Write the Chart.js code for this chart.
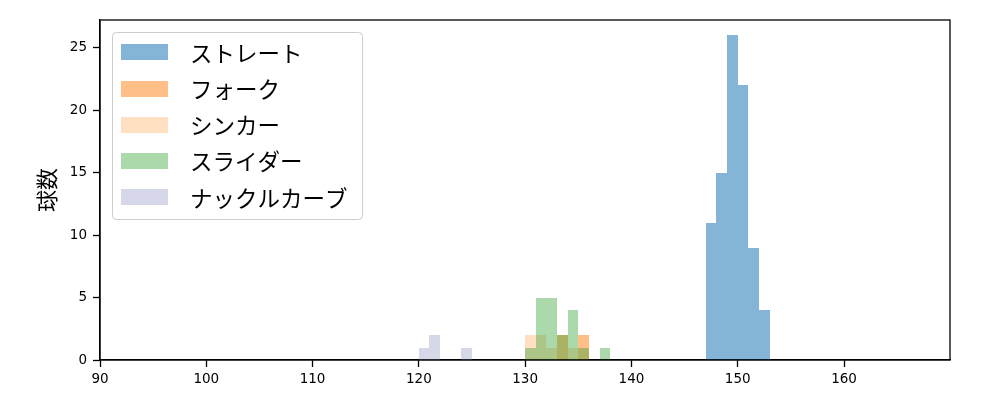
<!DOCTYPE html>
<html>
<head>
<meta charset="utf-8">
<script src="https://cdn.jsdelivr.net/npm/chart.js@4/dist/chart.umd.min.js"></script>
<style>
  html, body { margin: 0; padding: 0; background: #fff; }
  #wrap { width: 1000px; height: 400px; position: relative; }
</style>
</head>
<body>
<div id="wrap"><canvas id="c"></canvas></div>
<script>
// Bin left edges (km/h), each bin 1 km/h wide
const straightBins = [147, 148, 149, 150, 151, 152];
const straightCounts = [11, 15, 26, 22, 9, 4];

const forkBins = [133, 135];
const forkCounts = [2, 2];

const sinkerBins = [130, 131, 132, 134];
const sinkerCounts = [2, 2, 1, 1];

const sliderBins = [130, 131, 132, 133, 134, 135, 137];
const sliderCounts = [1, 5, 5, 2, 4, 1, 1];

const knuckleBins = [120, 121, 124];
const knuckleCounts = [1, 2, 1];

const seriesNames = ['ストレート', 'フォーク', 'シンカー', 'スライダー', 'ナックルカーブ'];
const seriesColors = [
  'rgba(31,119,180,0.55)',
  'rgba(255,127,14,0.5)',
  'rgba(255,187,120,0.45)',
  'rgba(44,160,44,0.4)',
  'rgba(188,189,220,0.6)'
];

const xTicks = [90, 100, 110, 120, 130, 140, 150, 160];
const yTicks = [0, 5, 10, 15, 20, 25];
const yLabel = '球数';

const allBins = [straightBins, forkBins, sinkerBins, sliderBins, knuckleBins];
const allCounts = [straightCounts, forkCounts, sinkerCounts, sliderCounts, knuckleCounts];

const datasets = seriesNames.map((name, i) => ({
  label: name,
  data: allBins[i].map((b, j) => ({ x: b + 0.5, y: allCounts[i][j] })),
  backgroundColor: seriesColors[i],
  borderWidth: 0,
  inflateAmount: 0,
  barPercentage: 1,
  categoryPercentage: 1,
  grouped: false,
  order: seriesNames.length - i
}));

const FONT = "'Noto Sans CJK JP', 'DejaVu Sans', sans-serif";
const TICKFONT = "'DejaVu Sans', sans-serif";

// Snap bar edges (computed by the x scale) to whole pixels to avoid seams
const snapPlugin = {
  id: 'snap',
  beforeDatasetsDraw(chart) {
    chart.data.datasets.forEach((ds, i) => {
      const meta = chart.getDatasetMeta(i);
      meta.data.forEach(el => {
        const l = Math.round(el.x - el.width / 2);
        const r = Math.round(el.x + el.width / 2);
        el.x = (l + r) / 2;
        el.width = r - l;
        el.y = Math.round(el.y);
        el.base = Math.round(el.base);
      });
    });
  }
};

const framePlugin = {
  id: 'frame',
  afterDraw(chart) {
    const ctx = chart.ctx;
    const a = chart.chartArea;
    ctx.save();
    ctx.strokeStyle = '#000';
    ctx.lineWidth = 1.3;
    ctx.strokeRect(a.left, a.top, a.right - a.left, a.bottom - a.top);

    // y axis label
    ctx.fillStyle = '#000';
    ctx.font = '22px ' + FONT;
    ctx.textAlign = 'center';
    ctx.textBaseline = 'middle';
    ctx.translate(47, (a.top + a.bottom) / 2);
    ctx.rotate(-Math.PI / 2);
    ctx.fillText(yLabel, 0, 0);
    ctx.restore();

    // legend
    ctx.save();
    const bx = 112.5, by = 32.5, bw = 250, bh = 187, r = 4;
    ctx.beginPath();
    ctx.moveTo(bx + r, by);
    ctx.lineTo(bx + bw - r, by);
    ctx.quadraticCurveTo(bx + bw, by, bx + bw, by + r);
    ctx.lineTo(bx + bw, by + bh - r);
    ctx.quadraticCurveTo(bx + bw, by + bh, bx + bw - r, by + bh);
    ctx.lineTo(bx + r, by + bh);
    ctx.quadraticCurveTo(bx, by + bh, bx, by + bh - r);
    ctx.lineTo(bx, by + r);
    ctx.quadraticCurveTo(bx, by, bx + r, by);
    ctx.closePath();
    ctx.fillStyle = 'rgba(255,255,255,0.8)';
    ctx.fill();
    ctx.strokeStyle = '#cccccc';
    ctx.lineWidth = 1;
    ctx.stroke();

    ctx.font = '22.5px ' + FONT;
    ctx.textAlign = 'left';
    ctx.textBaseline = 'middle';
    seriesNames.forEach((name, i) => {
      const cy = 52.3 + i * 36.2;
      ctx.fillStyle = seriesColors[i];
      ctx.fillRect(121, Math.round(cy - 8), 47, 16);
      ctx.fillStyle = '#000';
      ctx.fillText(name, 190, cy + 1);
    });
    ctx.restore();
  }
};

new Chart(document.getElementById('c'), {
  type: 'bar',
  data: { datasets },
  options: {
    responsive: true,
    maintainAspectRatio: false,
    animation: false,
    layout: { padding: { top: 20, right: 50, left: 0, bottom: 0 } },
    plugins: { legend: { display: false }, tooltip: { enabled: false } },
    scales: {
      x: {
        type: 'linear',
        min: 90,
        max: 169.97,
        offset: false,
        afterFit(scale) { scale.height = 40; },
        afterBuildTicks(scale) { scale.ticks = xTicks.map(v => ({ value: v })); },
        ticks: { color: '#000', font: { size: 13.5, family: TICKFONT }, padding: 4, maxRotation: 0, autoSkip: false },
        grid: { display: true, offset: false, drawOnChartArea: false, drawTicks: true, tickLength: 7, tickColor: '#000', tickWidth: 1.3 },
        border: { display: true, color: '#000', width: 1.3 }
      },
      y: {
        type: 'linear',
        min: 0,
        max: 27.24,
        afterFit(scale) { scale.width = 100; },
        afterBuildTicks(scale) { scale.ticks = yTicks.map(v => ({ value: v })); },
        ticks: { color: '#000', font: { size: 13.5, family: TICKFONT }, padding: 6 },
        grid: { display: true, drawOnChartArea: false, drawTicks: true, tickLength: 7, tickColor: '#000', tickWidth: 1.3 },
        border: { display: true, color: '#000', width: 1.3 }
      }
    }
  },
  plugins: [snapPlugin, framePlugin]
});
</script>
</body>
</html>
